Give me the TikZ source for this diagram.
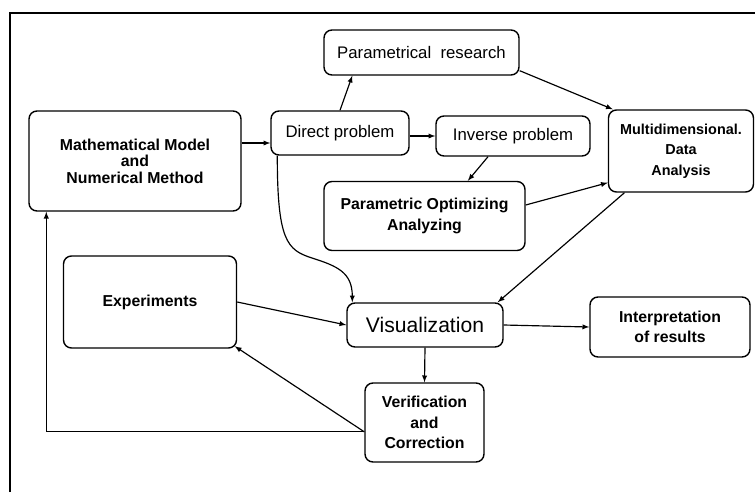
\documentclass[tikz,border=0pt]{standalone}
\usepackage{fontspec}
\setmainfont{Liberation Sans}
\usetikzlibrary{calc,arrows}

\begin{document}
\begin{tikzpicture}[x=0.03cm,y=-0.03cm,
    box/.style={draw,rounded corners=0.24cm,line width=1.2pt,align=center,inner sep=0pt},
    bold/.style={font=\fontsize{13.5}{17.4}\selectfont\bfseries},
    plain/.style={font=\fontsize{14.3}{17}\selectfont},
    arr/.style={-latex,line width=1pt}]
  \useasboundingbox (0,0) rectangle (755,492);
  \draw[line width=2.5pt] (10,492) -- (10,13) -- (755,13);
  % boxes
  \node[box,font=\fontsize{13.5}{14}\selectfont\bfseries,minimum width=6.36cm,minimum height=3cm](math)at(135,161){Mathematical Model\\and\\Numerical Method};
  \node[box,plain,minimum width=4.14cm,minimum height=1.32cm](direct)at(340,133){Direct problem};
  \node[box,plain,minimum width=5.85cm,minimum height=1.35cm](params)at(421.5,52.5){Parametrical~ research};
  \node[box,plain,minimum width=4.62cm,minimum height=1.2cm](inverse)at(513,136){Inverse problem};
  \node[box,font=\fontsize{12.3}{17.4}\selectfont\bfseries,minimum width=4.35cm,minimum height=2.46cm](multi)at(681,151){Multidimensional.\\Data\\Analysis};
  \node[box,bold,minimum width=6.03cm,minimum height=2.07cm](optim)at(424.5,216){Parametric Optimizing\\Analyzing};
  \node[box,bold,minimum width=5.19cm,minimum height=2.76cm](exper)at(150,302){Experiments};
  \node[box,font=\fontsize{18}{20}\selectfont,minimum width=4.68cm,minimum height=1.32cm](visual)at(425,325){Visualization};
  \node[box,bold,minimum width=4.8cm,minimum height=1.8cm](interp)at(670,327){Interpretation\\of results};
  \node[box,bold,minimum width=3.57cm,minimum height=2.37cm](verif)at(424.5,422.5){Verification\\and\\Correction};
  % connectors
  \draw[arr]([yshift=-0.3cm]direct.west -| math.east)--([yshift=-0.3cm]direct.west);
  \draw[arr](direct.north)--([xshift=0.87cm]params.south west);
  \draw[arr](direct.east |- inverse.west)--(inverse.west);
  \draw[arr]([xshift=-0.75cm]inverse.south)--([xshift=1.3cm]optim.north);
  \draw[arr]([yshift=0.15cm]params.south east)--([xshift=0.15cm]multi.north west);
  \draw[arr]([yshift=0.33cm]optim.east)--([yshift=0.3cm]multi.south west);
  \draw[arr]([xshift=0.5cm]multi.south west)--([xshift=-0.18cm]visual.north east);
  \draw[arr]([xshift=0.21cm]direct.south west) .. controls +(0,85) and +(-25,-8) .. (312,258)
    .. controls +(25,8) and +(0,-30) .. ([xshift=0.18cm]visual.north west);
  \draw[arr](exper.east)--(visual.west);
  \draw[arr](visual.east)--(interp.west);
  \draw[arr](visual.south)--(verif.north);
  \coordinate(fb)at([yshift=-0.28cm]verif.west);
  \draw[arr](fb)--([xshift=-0.075cm,yshift=0.075cm]exper.south east);
  \draw[arr](fb)-|([xshift=0.54cm]math.south west);
\end{tikzpicture}
\end{document}
